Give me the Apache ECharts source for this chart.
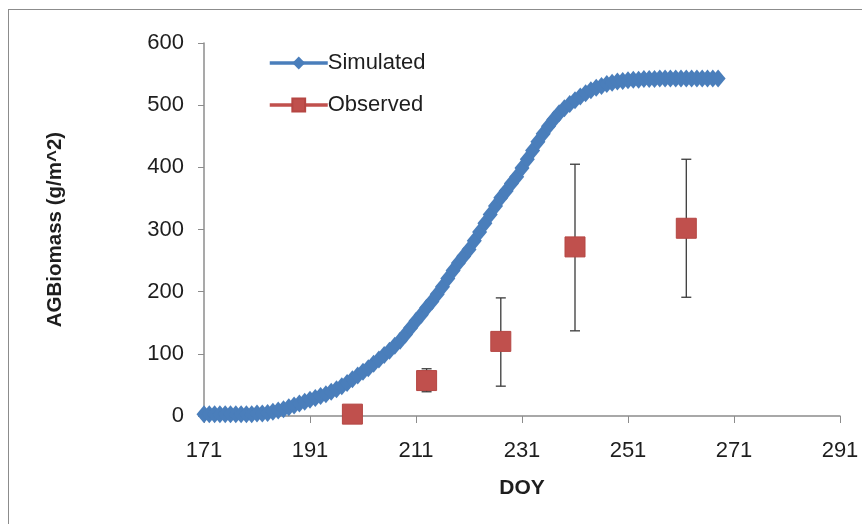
<!DOCTYPE html>
<html>
<head>
<meta charset="utf-8">
<script src="https://cdn.jsdelivr.net/npm/echarts@6/dist/echarts.min.js"></script>
<style>
  html, body { margin: 0; padding: 0; background: #fff; }
  #frame { position: absolute; left: 8px; top: 9px; width: 870px; height: 530px; border: 1px solid #8c8c8c; box-sizing: border-box; }
  #chart { position: absolute; left: 0; top: 0; width: 862px; height: 524px; }
</style>
</head>
<body>
<div id="frame"></div>
<div id="chart"></div>
<script>
// simulated above-ground biomass, one value per day
const simDoy = [171,172,173,174,175,176,177,178,179,180,181,182,183,184,185,186,187,188,189,190,
  191,192,193,194,195,196,197,198,199,200,201,202,203,204,205,206,207,208,209,210,
  211,212,213,214,215,216,217,218,219,220,221,222,223,224,225,226,227,228,229,230,
  231,232,233,234,235,236,237,238,239,240,241,242,243,244,245,246,247,248,249,250,
  251,252,253,254,255,256,257,258,259,260,261,262,263,264,265,266,267,268]
const simBiomass = [3,3,3,3,3,3,3,3,3,3,4,4,5,7,9,11,14,17,20,23,
  26,29,32,35,39,43,48,53,59,65,71,77,84,91,98,105,113,121,131,142,
  153,163,174,184,196,208,221,234,246,257,268,282,296,310,324,338,351,362,374,385,
  399,413,427,441,454,466,477,487,495,502,508,514,519,524,528,531,534,536,538,539,
  540,541,541,542,542,542,543,543,543,543,543,543,543,543,543,543,543,543]

// observed samples with error bars
const obsDoy = [199, 213, 227, 241, 262]
const obsBiomass = [3, 57, 120, 272, 302]
const obsLow = [3, 39, 48, 137, 191]
const obsHigh = [3, 76, 190, 405, 413]

const blue = '#4a7ebb'
const red = '#c0504d'
const font = '"Liberation Sans", sans-serif'

const chart = echarts.init(document.getElementById('chart'))

chart.setOption({
  animation: false,
  grid: { left: 204, right: 22, top: 43, bottom: 108 },
  legend: {
    orient: 'vertical',
    left: 263,
    top: 47,
    itemGap: 20,
    itemWidth: 58,
    itemHeight: 16,
    textStyle: { fontFamily: font, fontSize: 22, color: '#1e1e1e', padding: [0, 0, 0, -5] },
    data: [
      { name: 'Simulated', lineStyle: { color: blue, width: 3.5, opacity: 1 } },
      { name: 'Observed', lineStyle: { color: red, width: 3.5, opacity: 1 } }
    ]
  },
  xAxis: {
    type: 'value',
    min: 171,
    max: 291,
    interval: 20,
    name: 'DOY',
    nameLocation: 'middle',
    nameGap: 62,
    nameTextStyle: { fontFamily: font, fontSize: 21, fontWeight: 'bold', color: '#1e1e1e' },
    axisLine: { lineStyle: { color: '#8c8c8c', width: 1.5 } },
    axisTick: { length: 7, lineStyle: { color: '#8c8c8c' } },
    axisLabel: { fontFamily: font, fontSize: 22, color: '#1e1e1e', margin: 24 },
    splitLine: { show: false }
  },
  yAxis: {
    type: 'value',
    min: 0,
    max: 600,
    interval: 100,
    name: 'AGBiomass (g/m^2)',
    nameLocation: 'middle',
    nameGap: 138,
    nameTextStyle: { fontFamily: font, fontSize: 20.5, fontWeight: 'bold', color: '#1e1e1e' },
    axisLine: { show: true, lineStyle: { color: '#8c8c8c', width: 1.5 } },
    axisTick: { show: true, length: 6, lineStyle: { color: '#8c8c8c' } },
    axisLabel: { fontFamily: font, fontSize: 22, color: '#1e1e1e', margin: 20 },
    splitLine: { show: false }
  },
  series: [
    {
      name: 'Simulated',
      type: 'line',
      data: simDoy.map((d, i) => [d, simBiomass[i]]),
      symbol: 'diamond',
      symbolSize: [15, 18],
      showAllSymbol: true,
      lineStyle: { color: blue, width: 3 },
      itemStyle: { color: blue, borderWidth: 0 }
    },
    {
      name: 'Observed error',
      type: 'custom',
      data: obsDoy.map((d, i) => [d, obsLow[i], obsHigh[i]]),
      renderItem: (params, api) => {
        const lo = api.coord([api.value(0), api.value(1)])
        const hi = api.coord([api.value(0), api.value(2)])
        const half = 5
        const style = { stroke: '#3a3a3a', lineWidth: 1.3 }
        return {
          type: 'group',
          children: [
            { type: 'line', shape: { x1: lo[0], y1: lo[1], x2: hi[0], y2: hi[1] }, style },
            { type: 'line', shape: { x1: lo[0] - half, y1: lo[1], x2: lo[0] + half, y2: lo[1] }, style },
            { type: 'line', shape: { x1: hi[0] - half, y1: hi[1], x2: hi[0] + half, y2: hi[1] }, style }
          ]
        }
      },
      z: 3
    },
    {
      name: 'Observed',
      type: 'line',
      data: obsDoy.map((d, i) => [d, obsBiomass[i]]),
      symbol: 'rect',
      symbolSize: 20,
      lineStyle: { opacity: 0 },
      itemStyle: { color: red, borderColor: '#b54643', borderWidth: 1 },
      z: 4
    }
  ]
})
</script>
</body>
</html>
